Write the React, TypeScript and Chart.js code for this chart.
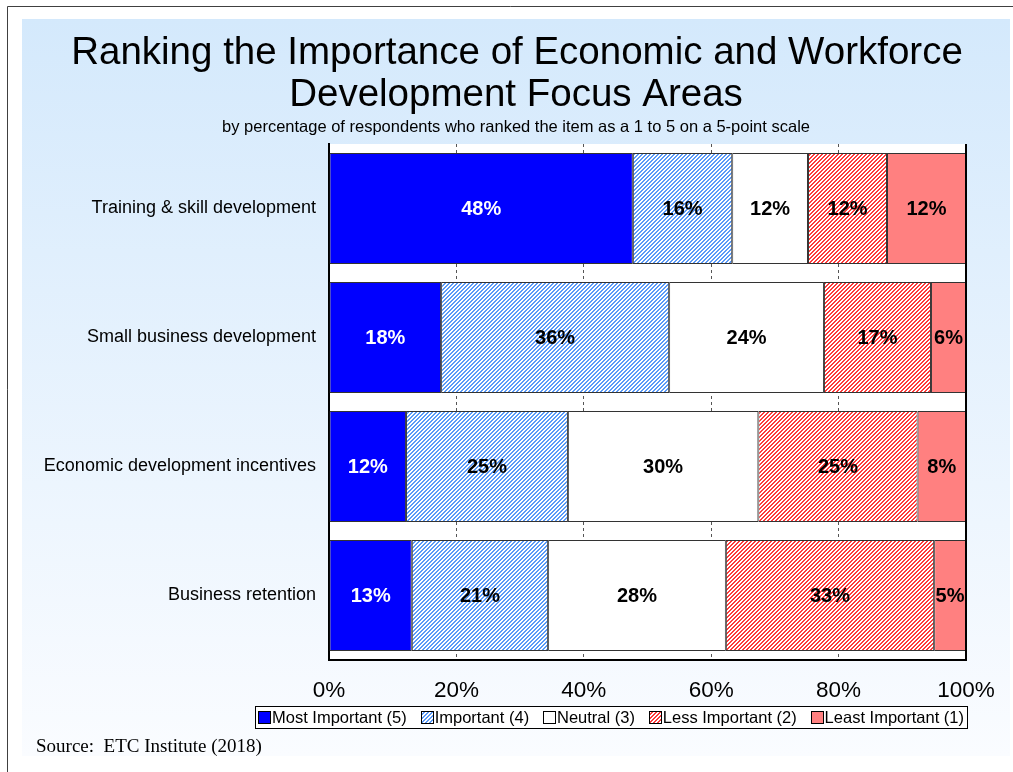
import React, { useEffect, useRef } from 'react';
import { Chart, registerables } from 'chart.js';
Chart.register(...registerables);

const categories = [
  'Training & skill development',
  'Small business development',
  'Economic development incentives',
  'Business retention',
];
const seriesNames = ['Most Important (5)', 'Important (4)', 'Neutral (3)', 'Less Important (2)', 'Least Important (1)'];
const mostImportant = [47.7, 17.6, 12.1, 13.0];
const important = [15.6, 35.8, 25.4, 21.4];
const neutral = [11.9, 24.3, 29.9, 27.9];
const lessImportant = [12.4, 16.8, 25.0, 32.7];
const leastImportant = [12.4, 5.5, 7.6, 5.0];
const xTickValues = [0, 20, 40, 60, 80, 100];

const titleLines = ['Ranking the Importance of Economic and Workforce', 'Development Focus Areas'];
const subtitle = 'by percentage of respondents who ranked the item as a 1 to 5 on a 5-point scale';
const sourceText = 'Source:  ETC Institute (2018)';

const SANS = '"Liberation Sans", Arial, sans-serif';
const SERIF = '"Liberation Serif", "Times New Roman", serif';

function hatch(color: string): CanvasPattern | string {
  const c = document.createElement('canvas');
  c.width = 4;
  c.height = 4;
  const g = c.getContext('2d');
  if (!g) return color;
  g.fillStyle = '#ffffff';
  g.fillRect(0, 0, 4, 4);
  g.fillStyle = color;
  for (let x = 0; x < 4; x++) {
    for (let y = 0; y < 4; y++) {
      const s = (x + y) % 4;
      if (s === 3 || s === 0) g.fillRect(x, y, 1, 1);
    }
  }
  const p = g.createPattern(c, 'repeat');
  return p || color;
}

export default function App() {
  const ref = useRef<HTMLCanvasElement | null>(null);

  useEffect(() => {
    const canvas = ref.current;
    if (!canvas) return;
    const blueHatch = hatch('#5a9af8');
    const redHatch = hatch('#ff3a3a');
    const fills: any[] = ['#0000ff', blueHatch, '#ffffff', redHatch, '#ff8080'];
    const seriesData = [mostImportant, important, neutral, lessImportant, leastImportant];

    const bgPlugin = {
      id: 'bgPlugin',
      beforeDraw(chart: any) {
        const ctx = chart.ctx;
        const W = chart.width;
        const H = chart.height;
        ctx.save();
        ctx.fillStyle = '#ffffff';
        ctx.fillRect(0, 0, W, H);
        const grad = ctx.createLinearGradient(0, 19, 0, 756);
        grad.addColorStop(0, '#d4e9fc');
        grad.addColorStop(1, '#fafcff');
        ctx.fillStyle = grad;
        ctx.fillRect(22, 19, 988, 737);
        ctx.strokeStyle = '#404040';
        ctx.lineWidth = 1;
        ctx.beginPath();
        ctx.moveTo(7.5, H);
        ctx.lineTo(7.5, 6.5);
        ctx.lineTo(W, 6.5);
        ctx.stroke();
        const a = chart.chartArea;
        ctx.fillStyle = '#ffffff';
        ctx.fillRect(a.left, a.top, a.right - a.left, a.bottom - a.top);
        ctx.restore();
      },
      afterDatasetsDraw(chart: any) {
        const ctx = chart.ctx;
        const a = chart.chartArea;
        ctx.save();
        ctx.strokeStyle = '#000';
        ctx.lineWidth = 2;
        ctx.beginPath();
        ctx.moveTo(a.right, a.top);
        ctx.lineTo(a.right, a.bottom);
        ctx.stroke();
        ctx.font = 'bold 20px ' + SANS;
        ctx.textAlign = 'center';
        ctx.textBaseline = 'middle';
        chart.data.datasets.forEach((ds: any, i: number) => {
          const meta = chart.getDatasetMeta(i);
          meta.data.forEach((bar: any, j: number) => {
            const p = bar.getProps(['x', 'y', 'base'], true);
            const v = ds.data[j];
            ctx.fillStyle = i === 0 ? '#ffffff' : '#000000';
            ctx.fillText(Math.round(v) + '%', (p.x + p.base) / 2, p.y + 1);
          });
        });
        ctx.restore();
      },
      afterDraw(chart: any) {
        const ctx = chart.ctx;
        ctx.save();
        ctx.fillStyle = '#000';
        ctx.textAlign = 'center';
        ctx.textBaseline = 'middle';
        ctx.font = '38.5px ' + SANS;
        ctx.fillText(titleLines[0], 517, 53);
        ctx.fillText(titleLines[1], 516, 95);
        ctx.font = '16.5px ' + SANS;
        ctx.fillText(subtitle, 516, 127);

        const bx = 255.5, by = 706.5, bw = 712, bh = 22;
        ctx.fillStyle = '#ffffff';
        ctx.fillRect(bx, by, bw, bh);
        ctx.strokeStyle = '#000';
        ctx.lineWidth = 1;
        ctx.strokeRect(bx, by, bw, bh);
        ctx.font = '16.5px ' + SANS;
        ctx.textAlign = 'left';
        const sq = 13;
        const gap = 1;
        const widths = chart.data.datasets.map((d: any) => sq + gap + ctx.measureText(d.label).width);
        const total = widths.reduce((s: number, w: number) => s + w, 0);
        const spacing = (bw - 6 - total) / (widths.length - 1);
        let x = bx + 2.5;
        const cy = by + bh / 2;
        chart.data.datasets.forEach((d: any, i: number) => {
          ctx.fillStyle = d.backgroundColor;
          ctx.fillRect(Math.round(x), Math.round(cy - sq / 2), sq, sq);
          ctx.strokeStyle = '#000';
          ctx.strokeRect(Math.round(x) + 0.5, Math.round(cy - sq / 2) + 0.5, sq - 1, sq - 1);
          ctx.fillStyle = '#000';
          ctx.fillText(d.label, x + sq + gap, cy + 1);
          x += widths[i] + spacing;
        });

        ctx.font = '19px ' + SERIF;
        ctx.textBaseline = 'alphabetic';
        ctx.fillText(sourceText, 36, 752);
        ctx.restore();
      },
    };

    const chart = new Chart(canvas, {
      type: 'bar',
      data: {
        labels: categories,
        datasets: seriesData.map((d, i) => ({
          label: seriesNames[i],
          data: d,
          backgroundColor: fills[i],
          borderColor: '#333333',
          borderWidth: 1,
          borderSkipped: false,
          barPercentage: 0.86,
          categoryPercentage: 1,
        })),
      },
      options: {
        indexAxis: 'y',
        responsive: false,
        animation: false,
        layout: { padding: { top: 144, right: 47, bottom: 0, left: 0 } },
        plugins: {
          legend: { display: false },
          title: { display: false },
          tooltip: { enabled: false },
        },
        scales: {
          x: {
            stacked: true,
            min: 0,
            max: 100,
            afterFit: (s: any) => { s.height = 112; },
            afterBuildTicks: (s: any) => { s.ticks = xTickValues.map((v) => ({ value: v })); },
            ticks: {
              padding: 17,
              color: '#000',
              font: { family: SANS, size: 22.5 },
              callback: (v: any) => v + '%',
            },
            grid: { color: '#555555', lineWidth: 1, drawTicks: false },
            border: { display: true, color: '#000', width: 2, dash: [3, 3] },
          },
          y: {
            stacked: true,
            afterFit: (s: any) => { s.width = 329; },
            ticks: {
              padding: 13,
              color: '#000',
              font: { family: SANS, size: 18 },
            },
            grid: { display: false, drawTicks: false },
            border: { display: true, color: '#000', width: 2 },
          },
        },
      },
      plugins: [bgPlugin],
    } as any);
    return () => chart.destroy();
  }, []);

  return (
    <div style={{ position: 'absolute', left: 0, top: 0, width: 1013, height: 772, overflow: 'hidden' }}>
      <canvas ref={ref} width={1013} height={772} style={{ display: 'block' }} />
    </div>
  );
}
